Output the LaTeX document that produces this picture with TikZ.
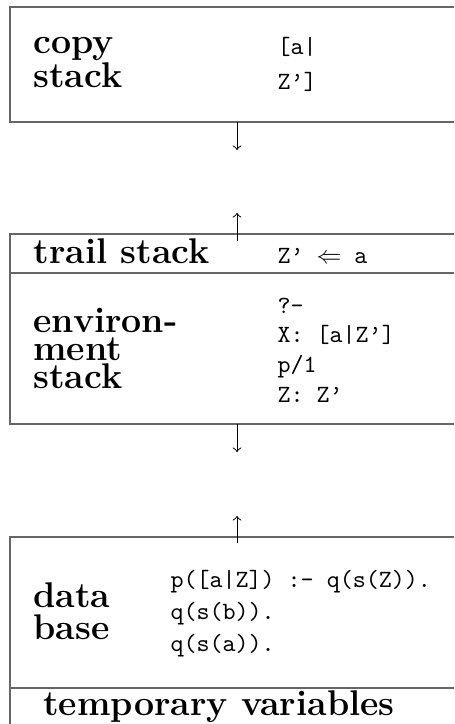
\documentclass[tikz,border=0pt]{standalone}
\usepackage{tikz}
\usepackage{amsmath}

\begin{document}
\begin{tikzpicture}[x=0.4032pt, y=-0.4032pt,
        boxline/.style={draw=black!60, line width=0.8pt},
        arr/.style={->, thin},
        hd/.style={align=left, inner sep=0pt, font={\fontsize{14.4}{#1}\selectfont\bfseries}},
        code/.style={align=left, inner sep=0pt, font={\fontsize{10}{#1}\selectfont\ttfamily}}]
        \useasboundingbox (0,0) rectangle (454,724);
        \draw[boxline] (454,7) -| (10,122) -- (454,122);
        \draw[boxline] (454,234) -| (10,424) -- (454,424);
        \draw[boxline] (10,273) -- (454,273);
        \draw[boxline] (454,537) -- (10,537) -- (10,724);
        \draw[boxline] (10,688) -- (454,688);
        \node[hd=14pt, anchor=west](copy) at (33,62.5) {copy\\stack};
        \node[code=14pt, anchor=west](copyval) at (277,64.3) {[a|\\Z’]};
        \node[hd=14pt, anchor=base west](trail) at (33,264) {trail stack};
        \node[code=12pt, anchor=base west](trailval) at (277,264) {Z’ $\Leftarrow$ a};
        \node[hd=11.3pt, anchor=west](env) at (33,348) {environ-\\ment\\stack};
        \node[code=12pt, anchor=west](envval) at (277,350) {?-\\X: [a|Z’]\\p/1\\Z: Z’};
        \node[hd=12.9pt, anchor=west](db) at (33,611.5) {data\\base};
        \node[code=12.9pt, anchor=west](dbval) at (170,613.7) {p([a|Z]) :- q(s(Z)).\\q(s(b)).\\q(s(a)).};
        \node[hd=14pt, anchor=base](temp) at (219,715) {temporary variables};
        \coordinate (copybot) at (237,122);
        \coordinate (down1) at (237,150);
        \coordinate (envtop) at (237,241);
        \coordinate (up1) at (237,213);
        \coordinate (envbot) at (237,424);
        \coordinate (down2) at (237,452);
        \coordinate (dbtop) at (237,543);
        \coordinate (up2) at (237,516);
        \path
            (copybot) edge [arr] (down1)
            (envtop) edge [arr] (up1)
            (envbot) edge [arr] (down2)
            (dbtop) edge [arr] (up2)
            ;
    \end{tikzpicture}
\end{document}
